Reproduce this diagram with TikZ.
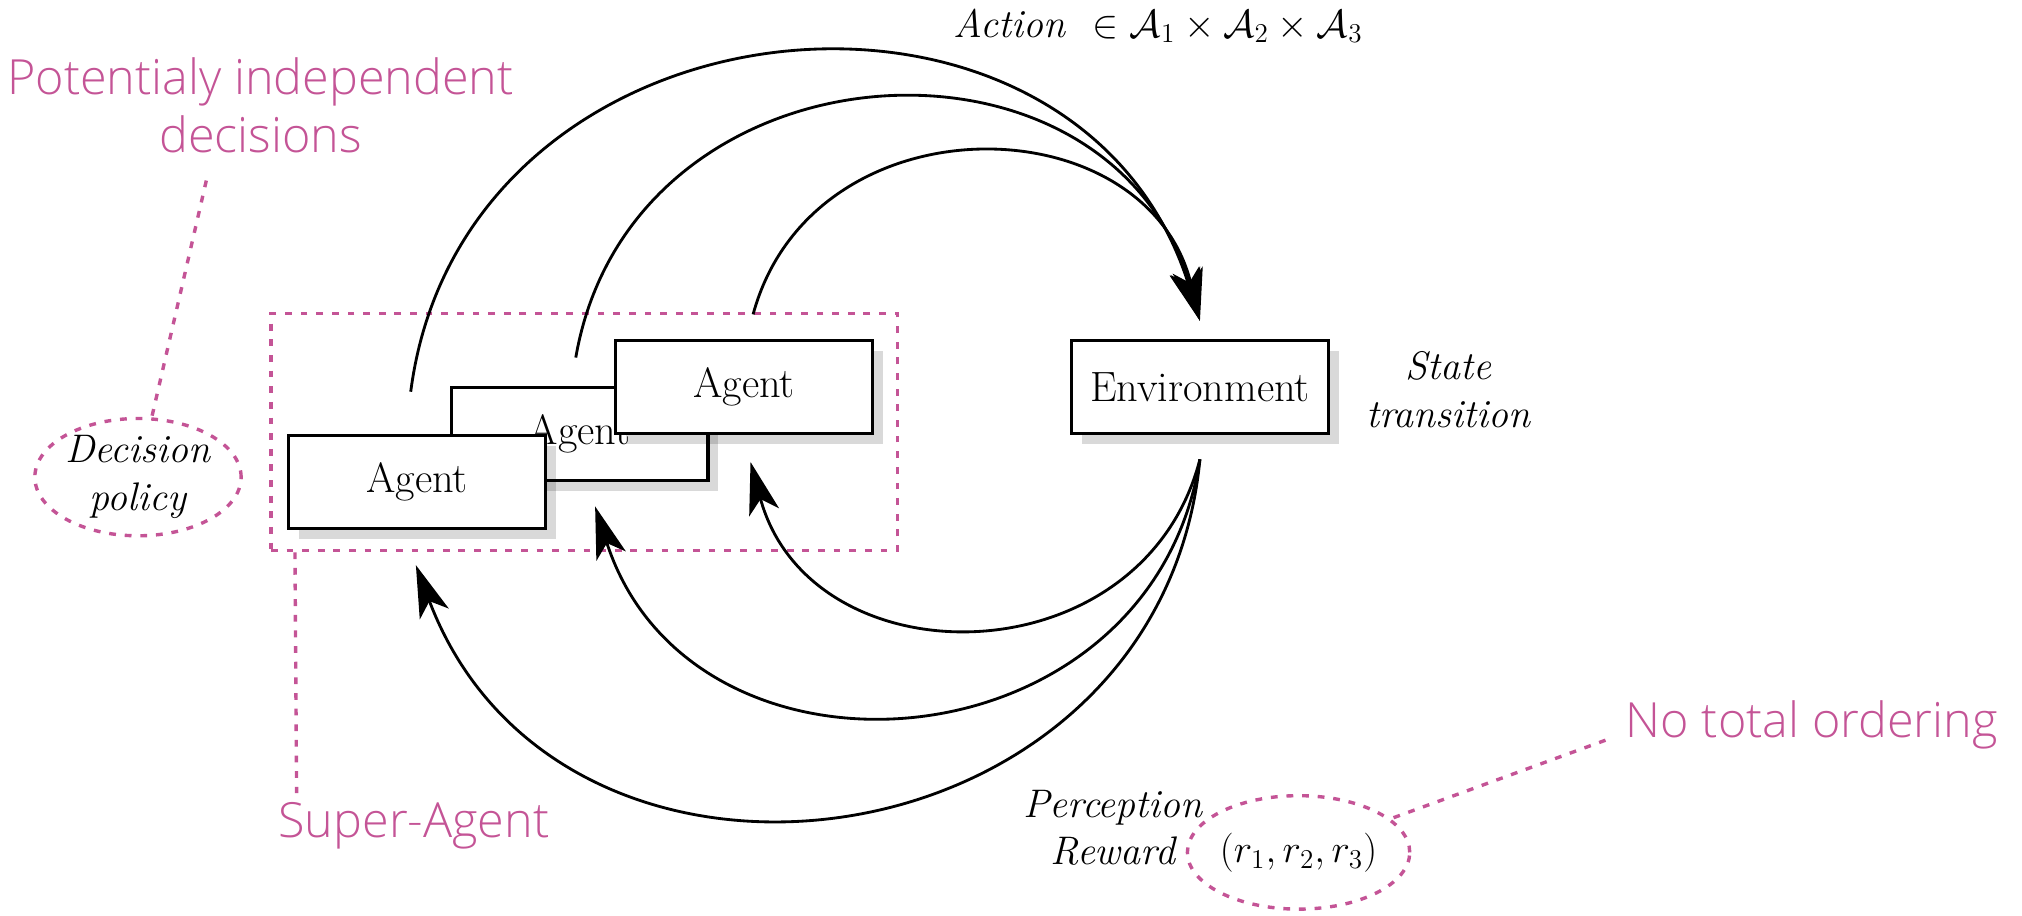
\documentclass[tikz,border=0pt]{standalone}
\usepackage{fontspec}
\newfontfamily\notefont{Open Sans}[UprightFont={* Light}]
\usetikzlibrary{arrows.meta,shadows,shapes.geometric,calc}
\definecolor{notepink}{RGB}{196,84,150}
\begin{document}
\begin{tikzpicture}[x=0.02cm,y=-0.02cm,
  box/.style={draw, line width=1.4pt, fill=white, minimum width=3.98cm,
    minimum height=1.44cm, inner sep=0pt, font=\fontsize{18.7}{22}\selectfont,
    drop shadow={shadow xshift=0.16cm, shadow yshift=-0.16cm, fill=black, opacity=0.15}},
  flow/.style={line width=1.25pt, -{Stealth[length=23pt,width=13.6pt,inset=6pt]}},
  lbl/.style={font=\fontsize{17.6}{21}\selectfont\itshape, align=center},
  note/.style={text=notepink, font=\notefont\fontsize{21.4}{25.6}\selectfont, align=center},
  pinkdash/.style={draw=notepink, line width=1.5pt, dash pattern=on 3pt off 3.9pt},
]
\useasboundingbox (0,0) rectangle (1568,710);

% super-agent frame
\node[pinkdash, minimum width=9.72cm, minimum height=3.68cm, inner sep=0pt] (super) at (453,335) {};

% agents and environment
\node[box] (a2) at (449.5,336.5) {Agent};
\node[box] (a1) at (577,300) {Agent};
\node[box] (a3) at (323.5,374) {Agent};
\node[box] (env) at (930.5,300) {Environment};

% labels
\node[lbl] (st) at (1123,302) {State\\transition};
\node[lbl] (act) at (898,20) {Action\ \ $\in \mathcal{A}_1\times\mathcal{A}_2\times\mathcal{A}_3$};
\node[pinkdash, ellipse, minimum width=3.2cm, minimum height=1.8cm, inner sep=0pt, lbl] (dp) at (107,370) {Decision\\policy};
\node[pinkdash, ellipse, minimum width=3.12cm, minimum height=1.76cm, inner sep=0pt,
  font=\fontsize{17.6}{21}\selectfont] (rw) at (1007,661) {$(r_1,r_2,r_3)$};
\node[lbl] (pr) at (863,642) {Perception\\Reward};

% annotations
\node[note] (pot) at (202,82) {Potentialy independent\\decisions};
\node[note] (sa) at (321,640) {Super-Agent};
\node[note] (nto) at (1405,562) {No total ordering};

\coordinate (potfoot) at (160,140);
\draw[pinkdash] (potfoot) -- (dp);
\coordinate (safoot) at (230,615);
\draw[pinkdash] ($(super.south west)+(20,0)$) -- (safoot);
\coordinate (ntofoot) at (1245,574);
\draw[pinkdash] (ntofoot) -- (rw);

% connector end points
\coordinate (o3) at ($(a3.north)+(-5,-33)$);
\coordinate (o2) at ($(a2.north)+(-3,-22)$);
\coordinate (o1) at ($(a1.north)+(7,-19)$);
\coordinate (ein) at ($(env.north)+(0,-14)$);
\coordinate (eout) at ($(env.south)+(0,19)$);
\coordinate (i1) at ($(a1.south)+(5,21)$);
\coordinate (i2) at ($(a2.south)+(12,19)$);
\coordinate (i3) at ($(a3.south)+(-1,27)$);

% actions
\draw[flow] (o3) .. controls +(41,-316) and +(-95,-304) .. (ein);
\draw[flow] (o2) .. controls +(43,-249) and +(-71,-243) .. (ein);
\draw[flow] (o1) .. controls +(46,-169) and +(-41,-170) .. (ein);
% perceptions
\draw[flow] (eout) .. controls +(-44.5,172) and +(46.5,172) .. (i1);
\draw[flow] (eout) .. controls +(-38,242) and +(75,233) .. (i2);
\draw[flow] (eout) .. controls +(-30.7,319) and +(113,300) .. (i3);
\end{tikzpicture}
\end{document}
